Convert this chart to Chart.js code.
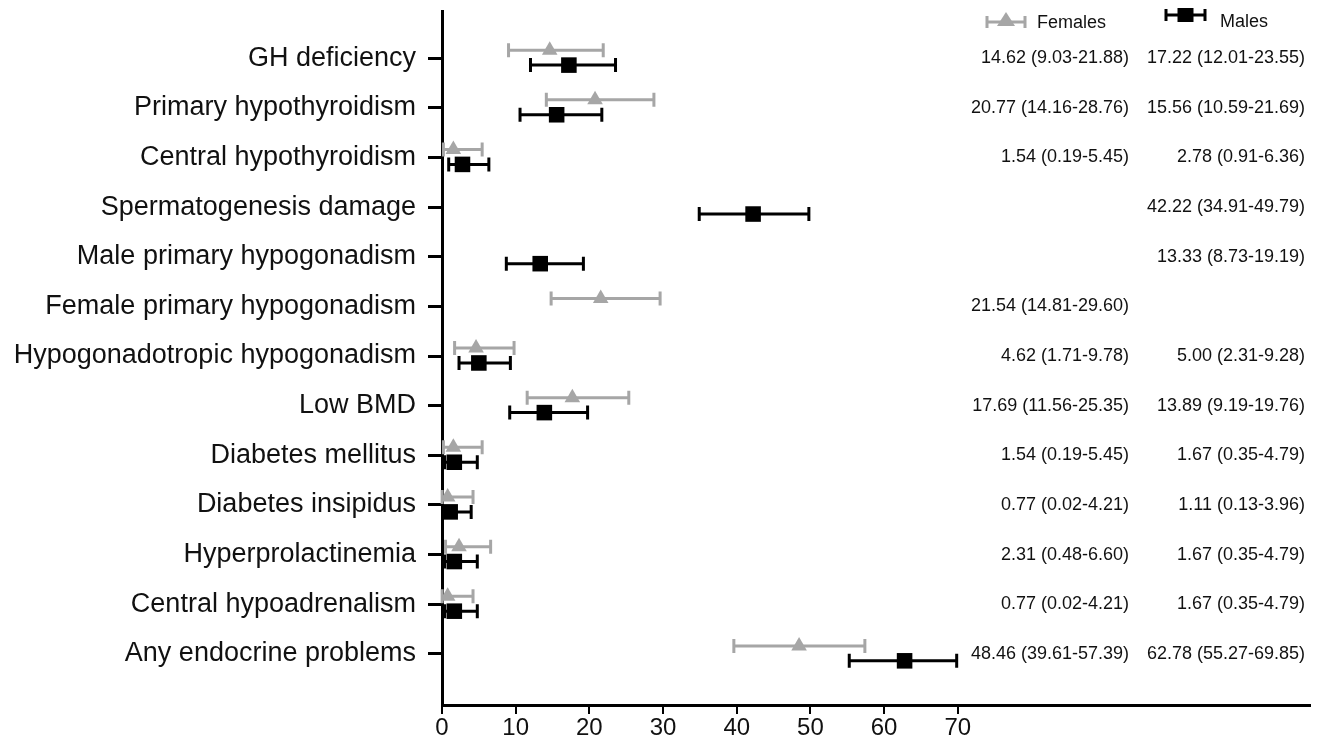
<!DOCTYPE html>
<html>
<head>
<meta charset="utf-8">
<script src="https://cdn.jsdelivr.net/npm/chart.js@4"></script>
<style>
  html, body { margin: 0; padding: 0; background: #fff; }
  #wrap { width: 1325px; height: 746px; }
</style>
</head>
<body>
<div id="wrap"><canvas id="c"></canvas></div>
<script>
// categories, top to bottom
const categories = [
  'GH deficiency', 'Primary hypothyroidism', 'Central hypothyroidism',
  'Spermatogenesis damage', 'Male primary hypogonadism', 'Female primary hypogonadism',
  'Hypogonadotropic hypogonadism', 'Low BMD', 'Diabetes mellitus',
  'Diabetes insipidus', 'Hyperprolactinemia', 'Central hypoadrenalism',
  'Any endocrine problems'
];

// prevalence (%) with 95% CI; null = not applicable
const femaleMean = [14.62, 20.77, 1.54, null, null, 21.54, 4.62, 17.69, 1.54, 0.77, 2.31, 0.77, 48.46];
const femaleLow  = [9.03, 14.16, 0.19, null, null, 14.81, 1.71, 11.56, 0.19, 0.02, 0.48, 0.02, 39.61];
const femaleHigh = [21.88, 28.76, 5.45, null, null, 29.60, 9.78, 25.35, 5.45, 4.21, 6.60, 4.21, 57.39];

const maleMean = [17.22, 15.56, 2.78, 42.22, 13.33, null, 5.00, 13.89, 1.67, 1.11, 1.67, 1.67, 62.78];
const maleLow  = [12.01, 10.59, 0.91, 34.91, 8.73, null, 2.31, 9.19, 0.35, 0.13, 0.35, 0.35, 55.27];
const maleHigh = [23.55, 21.69, 6.36, 49.79, 19.19, null, 9.28, 19.76, 4.79, 3.96, 4.79, 4.79, 69.85];

const xTicks = [0, 10, 20, 30, 40, 50, 60, 70];

const GREY = '#a6a6a6';
const BLACK = '#000';
const FONT = '"Liberation Sans", Arial, Helvetica, sans-serif';

function points(mean, lo, hi, shift) {
  const out = [];
  mean.forEach((m, i) => {
    if (m === null) return;
    out.push({ x: m, y: i + 1 + shift, lo: lo[i], hi: hi[i], idx: i });
  });
  return out;
}

const femalePts = points(femaleMean, femaleLow, femaleHigh, -0.16);
const malePts   = points(maleMean, maleLow, maleHigh, 0.14);

const fmt = (m, l, h) => m.toFixed(2) + ' (' + l.toFixed(2) + '-' + h.toFixed(2) + ')';

// horizontal error bars with end caps, drawn under the markers
const errorBars = {
  id: 'errorBars',
  beforeDatasetsDraw(chart) {
    const { ctx, scales: { x, y } } = chart;
    chart.data.datasets.forEach(ds => {
      ctx.save();
      ctx.strokeStyle = ds.borderColor;
      ctx.lineWidth = 3;
      ds.data.forEach(p => {
        const py = y.getPixelForValue(p.y);
        const x0 = x.getPixelForValue(p.lo);
        const x1 = x.getPixelForValue(p.hi);
        ctx.beginPath();
        ctx.moveTo(x0, py); ctx.lineTo(x1, py);
        ctx.moveTo(x0, py - 7); ctx.lineTo(x0, py + 7);
        ctx.moveTo(x1, py - 7); ctx.lineTo(x1, py + 7);
        ctx.stroke();
      });
      ctx.restore();
    });
  }
};

// numbers on the right + legend on top
const annotations = {
  id: 'annotations',
  afterDraw(chart) {
    const { ctx, scales: { y } } = chart;
    ctx.save();
    ctx.font = '18px ' + FONT;
    ctx.fillStyle = '#111';
    ctx.textAlign = 'right';
    ctx.textBaseline = 'middle';
    categories.forEach((c, i) => {
      const py = y.getPixelForValue(i + 1);
      if (femaleMean[i] !== null)
        ctx.fillText(fmt(femaleMean[i], femaleLow[i], femaleHigh[i]), 1129, py);
      if (maleMean[i] !== null)
        ctx.fillText(fmt(maleMean[i], maleLow[i], maleHigh[i]), 1305, py);
    });

    // legend
    function sym(x0, x1, py, color, shape) {
      ctx.strokeStyle = color;
      ctx.fillStyle = color;
      ctx.lineWidth = 3;
      ctx.beginPath();
      ctx.moveTo(x0, py); ctx.lineTo(x1, py);
      ctx.moveTo(x0, py - 6); ctx.lineTo(x0, py + 6);
      ctx.moveTo(x1, py - 6); ctx.lineTo(x1, py + 6);
      ctx.stroke();
      const cx = (x0 + x1) / 2;
      ctx.beginPath();
      if (shape === 'tri') {
        ctx.moveTo(cx, py - 10); ctx.lineTo(cx + 9, py + 4); ctx.lineTo(cx - 9, py + 4);
        ctx.closePath();
      } else {
        ctx.rect(cx - 8, py - 7, 16, 14);
      }
      ctx.fill();
    }
    sym(987, 1025, 22, GREY, 'tri');
    sym(1166, 1205, 15, BLACK, 'sq');
    ctx.fillStyle = '#111';
    ctx.textAlign = 'left';
    ctx.fillText('Females', 1037, 23);
    ctx.fillText('Males', 1220, 22);
    ctx.restore();
  }
};

new Chart(document.getElementById('c'), {
  type: 'scatter',
  data: {
    datasets: [
      {
        label: 'Females',
        data: femalePts,
        borderColor: GREY,
        backgroundColor: GREY,
        pointStyle: 'triangle',
        pointRadius: 9,
        pointBorderWidth: 0
      },
      {
        label: 'Males',
        data: malePts,
        borderColor: BLACK,
        backgroundColor: BLACK,
        pointStyle: 'rect',
        pointRadius: 11,
        pointBorderWidth: 0
      }
    ]
  },
  options: {
    responsive: true,
    maintainAspectRatio: false,
    animation: false,
    layout: { padding: { top: 10, right: 15, left: 0, bottom: 0 } },
    plugins: {
      legend: { display: false },
      tooltip: { enabled: false }
    },
    scales: {
      x: {
        type: 'linear',
        min: 0,
        max: 117.8,
        afterBuildTicks: s => { s.ticks = xTicks.map(v => ({ value: v })); },
        afterFit: s => { s.height = 41; s.paddingLeft = 0; s.paddingRight = 0; },
        border: { color: BLACK, width: 3 },
        grid: { drawOnChartArea: false, drawTicks: true, tickLength: 9, color: BLACK, lineWidth: 2 },
        ticks: { color: '#111', font: { size: 24, family: FONT }, padding: 0, maxRotation: 0 }
      },
      y: {
        type: 'linear',
        reverse: true,
        min: 0.05,
        max: 14.03,
        afterBuildTicks: s => { s.ticks = categories.map((c, i) => ({ value: i + 1 })); },
        afterFit: s => { s.width = 442; s.paddingTop = 0; s.paddingBottom = 0; },
        border: { color: BLACK, width: 3 },
        grid: { drawOnChartArea: false, drawTicks: true, tickLength: 14, color: BLACK, lineWidth: 3 },
        ticks: {
          color: '#111',
          font: { size: 27, family: FONT },
          padding: 12,
          callback: v => categories[v - 1] || ''
        }
      }
    }
  },
  plugins: [errorBars, annotations]
});
</script>
</body>
</html>
